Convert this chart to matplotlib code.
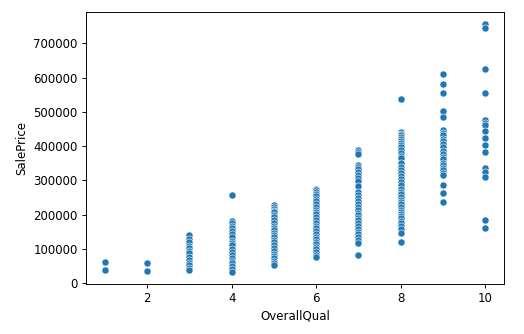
import numpy as np
import pandas as pd
import matplotlib
matplotlib.use("Agg")
import matplotlib.pyplot as plt
import seaborn as sns

# sale prices grouped by overall quality rating
q1 = [61000, 39300]
q2 = [60000, 35311, 34900]
q3 = [139600, 130000, 119000, 110000, 103600, 94000, 87000, 77400, 68000, 60000, 52000, 45000, 38700]
q4 = [256000, 182000, 174500, 168000, 160000, 152000, 143000, 135000, 124000, 118000, 111000,
      100000, 90000, 82000, 74000, 66000, 58000, 50000, 42000, 34000]
q5 = [228000, 222000, 218000, 212000, 206600, 199000, 192000, 185000, 174500, 168000, 160000,
      154000, 147000, 140000, 134000, 127000, 119000, 111000, 102000, 94000, 85000, 79000,
      72700, 64000, 58000, 53000]
q6 = [276000, 271000, 266500, 260000, 254000, 247000, 240000, 231000, 223000, 215000, 208000,
      201000, 194000, 185000, 176000, 168000, 160000, 152000, 145000, 136000, 128000, 121000,
      114000, 106000, 99000, 90000, 82000, 75600]
q7 = [388000, 382000, 376000, 344000, 338000, 332000, 324000, 315000, 307000, 298500, 285000,
      266500, 258000, 250000, 240000, 231000, 222000, 213000, 206000, 199000, 191000, 184000,
      174500, 166000, 157000, 150000, 143000, 134000, 126000, 118000, 82000]
q8 = [536000, 441000, 436000, 431000, 426000, 422000, 415000, 409000, 402000, 396000, 388000,
      380000, 372000, 364000, 352000, 339000, 330000, 322000, 314000, 305500, 296000, 286000,
      276000, 266500, 259000, 252000, 244000, 237000, 230000, 223000, 215000, 208000, 202000,
      196000, 189000, 182000, 175000, 167000, 157000, 147000, 121000]
q9 = [609000, 582000, 554000, 501000, 485000, 446000, 438000, 431000, 422000, 414000, 405000,
      396000, 386000, 376000, 368000, 361000, 352000, 344000, 337000, 330000, 322000, 315000,
      286000, 263600, 237000]
q10 = [755000, 745000, 625000, 555000, 475000, 467000, 461000, 444000, 424000, 402000, 383000,
       337500, 325000, 310000, 184000, 160000]

groups = [q1, q2, q3, q4, q5, q6, q7, q8, q9, q10]
qual = []
price = []
for i, vals in enumerate(groups, start=1):
    qual += [i] * len(vals)
    price += vals
df = pd.DataFrame({'OverallQual': qual, 'SalePrice': price})

dpi = 85
fig = plt.figure(figsize=(524 / dpi, 334 / dpi), dpi=dpi)
ax = fig.add_axes([86 / 524, 50 / 334, 418 / 524, 272 / 334])
sns.scatterplot(data=df, x='OverallQual', y='SalePrice', ax=ax)
ax.set_xticks([2, 4, 6, 8, 10])
ax.set_yticks(np.arange(0, 700001, 100000))

fig.savefig('out.png', dpi=dpi)
